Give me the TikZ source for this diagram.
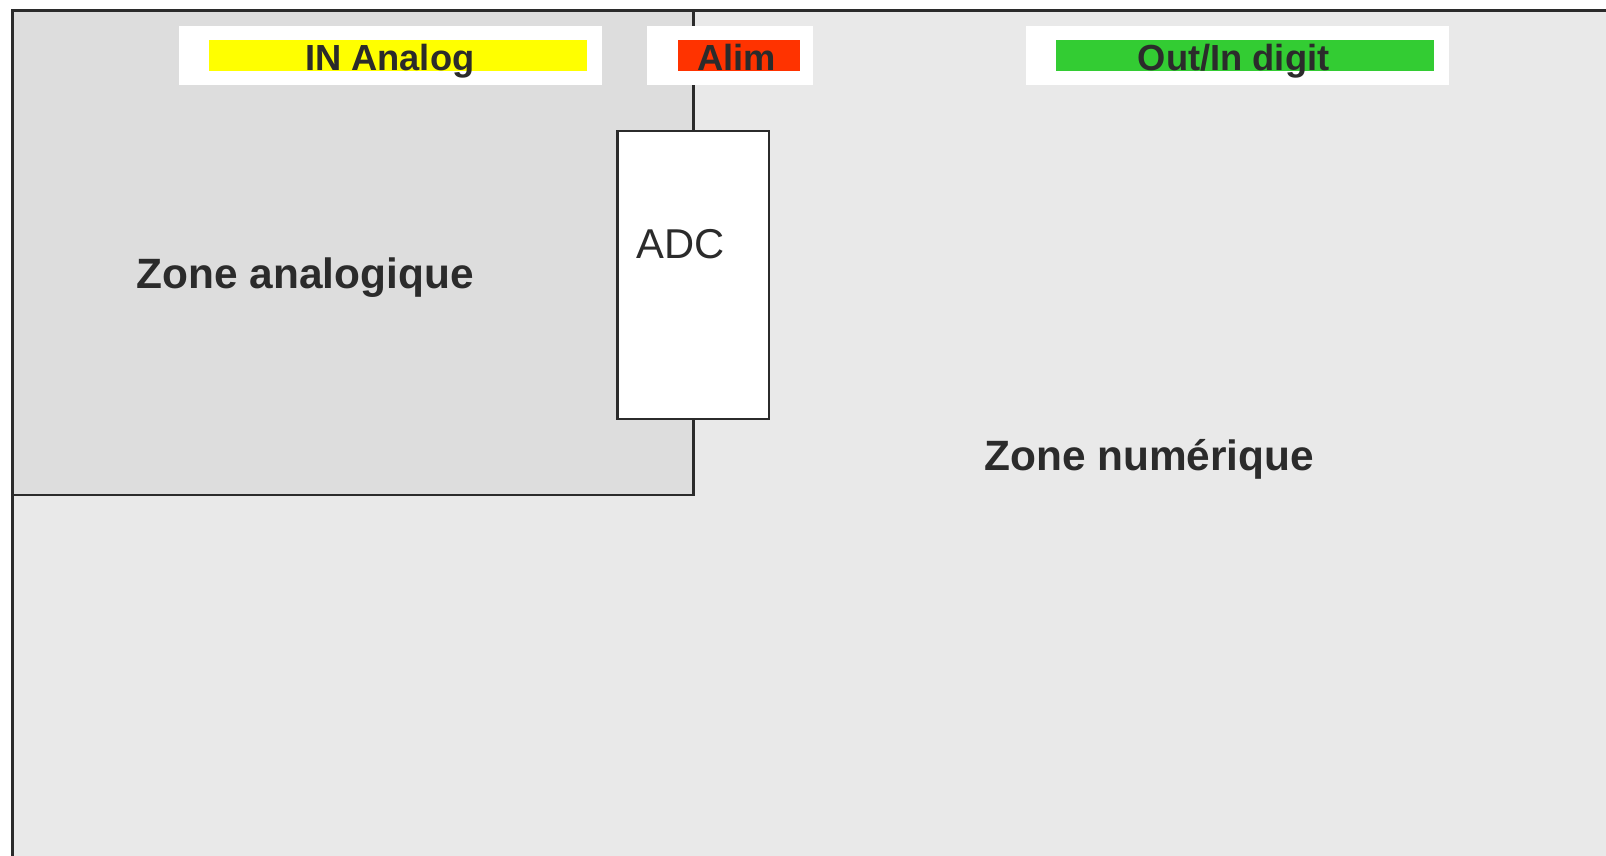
\documentclass[tikz,border=0pt]{standalone}
\usepackage{fontspec}
\setmainfont{Liberation Sans}

\definecolor{ink}{HTML}{2B2B2B}
\definecolor{analogfill}{HTML}{DDDDDD}
\definecolor{digitfill}{HTML}{E9E9E9}
\definecolor{inyellow}{HTML}{FFFF00}
\definecolor{alimred}{HTML}{FF3300}
\definecolor{digitgreen}{HTML}{33CC33}

\begin{document}
\begin{tikzpicture}[x=1pt, y=-1pt,
    headbox/.style={rectangle, fill=white, inner sep=0pt, minimum height=59.4pt},
    headbar/.style={rectangle, inner sep=0pt, minimum height=30.8pt},
    headtext/.style={anchor=base, inner sep=0pt, text=ink,
      font=\fontsize{36.3}{40}\selectfont\bfseries},
    zonetext/.style={inner sep=0pt, text=ink,
      font=\fontsize{42.4}{46}\selectfont\bfseries}]
  \useasboundingbox (0,0) rectangle (1606,855);
  \clip (0,0) rectangle (1606,855);

  % Board: digital zone in the background, analog corner on top
  \fill[digitfill] (12,10) rectangle (1620,870);
  \draw[ink, line width=2.2pt, fill=analogfill] (12,10) rectangle (693.4,494.7);
  \draw[ink, line width=3pt] (12,870) -- (12,10) -- (1620,10);

  % Connector headers
  \node[headbox, minimum width=423pt] (inbox) at (390.7,55.3) {};
  \node[headbar, fill=inyellow, minimum width=378pt] (inbar) at (397.9,55.3) {};
  \node[headtext] (inlabel) at (389.7,70.7) {IN Analog};

  \node[headbox, minimum width=165.9pt] (alimbox) at (730.25,55.3) {};
  \node[headbar, fill=alimred, minimum width=121.9pt] (alimbar) at (739,55.3) {};
  \node[headtext] (alimlabel) at (736.6,70.7) {Alim};

  \node[headbox, minimum width=423pt] (digitbox) at (1237.7,55.3) {};
  \node[headbar, fill=digitgreen, minimum width=377.9pt] (digitbar) at (1245,55.3) {};
  \node[headtext] (digitlabel) at (1233.6,70.7) {Out/In digit};

  % Converter straddling the zone border
  \node[rectangle, draw=ink, line width=2.5pt, fill=white,
        minimum width=151.6pt, minimum height=287.8pt] (adc) at (693.4,275) {};
  \node[inner sep=0pt, text=ink, font=\fontsize{41.7}{45}\selectfont] (adclabel) at (681,243.8) {ADC};

  % Zone names
  \node[zonetext] (analog) at (305.2,277.5) {Zone analogique};
  \node[zonetext] (digital) at (1149.2,459.8) {Zone numérique};
\end{tikzpicture}
\end{document}
